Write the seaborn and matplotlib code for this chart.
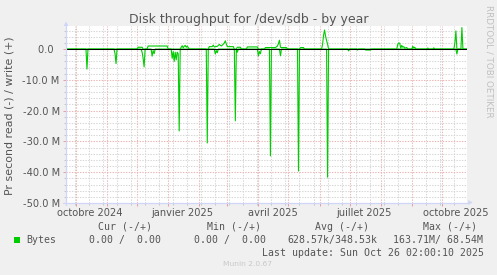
import numpy as np
import pandas as pd
import matplotlib
matplotlib.use("Agg")
import matplotlib.pyplot as plt
import matplotlib.dates as mdates
import seaborn as sns
from matplotlib.lines import Line2D
from matplotlib.patches import Rectangle, Polygon
from matplotlib.ticker import FixedLocator, MultipleLocator, FuncFormatter

# ---------------- data (days since 2024-10-01, values in M bytes/s) ----------------
base_date = "2024-10-01"
read_days = [-10, 10, 11, 12, 38, 39, 40, 41, 65, 66, 67, 68, 69, 75, 76, 77, 78, 79,
             95, 96, 97, 98, 99, 100, 101, 102, 103, 104, 130, 131, 132,
             138, 139, 140, 141, 142, 158, 159, 160, 161, 162, 181, 182, 183, 184, 185,
             193, 194, 195, 203, 204, 205, 221, 222, 223, 250, 251, 252,
             271, 272, 273, 280, 281, 282, 288, 289, 294, 295, 379, 380, 381, 390]
read_vals = [0, 0, 6.5, 0, 0, 1.5, 4.7, 0, 0, 1.0, 3.0, 5.8, 0, 0, 2.3, 0.5, 1.5, 0,
             0, 3.0, 0.8, 4.0, 1.0, 3.5, 1.0, 1.5, 26.6, 0, 0, 30.5, 0,
             0, 1.6, 0.5, 1.2, 0, 0, 23.3, 0, 1.0, 0, 0, 2.2, 0.8, 1.5, 0,
             0, 34.7, 0, 0, 2.2, 0, 0, 39.6, 0, 0, 41.6, 0,
             0, 0.6, 0, 0, 0.3, 0, 0, 0.3, 0.3, 0, 0, 1.6, 0, 0]
write_days = [-10, 61, 62, 66, 67, 71, 72, 91, 92,
              104, 105, 106, 107, 108, 109, 110, 111, 112, 113,
              132, 133, 136, 137, 138, 141, 143, 145, 147, 148, 149, 150, 151, 157, 158,
              160, 161, 164, 165, 170, 171, 181, 182,
              188, 189, 199, 201, 202, 203, 204, 205, 210, 211,
              223, 224, 227, 228, 245, 246, 247, 248, 249, 250, 251, 252,
              320, 321, 322, 323, 324, 325, 326, 327, 328, 330, 331,
              335, 336, 337, 338, 339, 350, 351, 352, 356, 357, 358,
              376, 377, 378, 379, 380, 384, 385, 386, 390]
write_vals = [0, 0, 0.6, 0.6, 0, 0, 1.0, 1.0, 0,
              0, 0.6, 1.1, 0.4, 0.9, 1.2, 0.6, 1.0, 0.5, 0,
              0, 0.8, 0.8, 1.3, 0.7, 0.9, 1.5, 1.0, 1.6, 2.0, 2.7, 1.6, 0.8, 0.8, 0,
              0, 0.6, 0.6, 0, 0, 0.7, 0.7, 0,
              0, 0.5, 0.5, 1.0, 1.8, 2.9, 0.6, 0.5, 0.5, 0,
              0, 0.5, 0.5, 0, 0, 1.5, 4.5, 6.2, 4.2, 2.8, 1.6, 0,
              0, 1.5, 2.0, 1.9, 0.3, 1.2, 0.6, 0.8, 0.3, 0.5, 0,
              0, 0.9, 0.4, 0.6, 0, 0, 0.35, 0, 0, 0.4, 0,
              0, 0, 2.0, 5.9, 0, 0, 7.0, 0, 0]

y_ticks = [0, -10, -20, -30, -40, -50]
x_label_dates = ["2024-10-15", "2025-01-15", "2025-04-15", "2025-07-15", "2025-10-15"]
x_labels = ["octobre 2024", "janvier 2025", "avril 2025", "juillet 2025", "octobre 2025"]

legend_name = "Bytes"
cur_vals = ["0.00", "0.00"]
min_vals = ["0.00", "0.00"]
avg_vals = ["628.57k", "348.53k"]
max_vals = ["163.71M", "68.54M"]
last_update = "Sun Oct 26 02:00:10 2025"

# ---------------- styling ----------------
sns.set_theme(style="white")
plt.rcParams["font.family"] = ["DejaVu Sans"]
FONT = "#555555"
BACK = "#F0F0F0"
AXISC = "#CFD6F8"
GREEN = "#00CC00"
MGRID = "#eeb4b4"
GRID = "#d6d6d6"

W, H = 497, 275
fig = plt.figure(figsize=(W / 100, H / 100), dpi=100, facecolor=BACK)
L, R, T, B = 66, 467, 26, 203


def fx(x):
    return x / W


def fy(y):
    return 1 - y / H


ax = fig.add_axes([fx(L), fy(B), (R - L) / W, (B - T) / H])
ax.set_facecolor("white")

t0 = pd.Timestamp(base_date)
read_df = pd.DataFrame({"date": t0 + pd.to_timedelta(read_days, unit="D"),
                        "val": -np.array(read_vals)})
write_df = pd.DataFrame({"date": t0 + pd.to_timedelta(write_days, unit="D"),
                         "val": np.array(write_vals)})

sns.lineplot(data=read_df, x="date", y="val", ax=ax, color=GREEN, lw=0.8,
             estimator=None, sort=False, zorder=3)
sns.lineplot(data=write_df, x="date", y="val", ax=ax, color=GREEN, lw=0.8,
             estimator=None, sort=False, zorder=3)
ax.axhline(0, color="black", lw=0.75, zorder=4)

ax.set_xlim(pd.Timestamp("2024-09-21 02:00:10"), pd.Timestamp("2025-10-26 02:00:10"))
ax.set_ylim(-50, 7.5)

for s in ax.spines.values():
    s.set_visible(False)

# grids: monthly major, fortnightly (Monday) minor
ax.xaxis.set_major_locator(mdates.MonthLocator())
minor_dates = pd.date_range("2024-09-16", "2025-10-27", freq="2W-MON")
ax.xaxis.set_minor_locator(FixedLocator(mdates.date2num(minor_dates)))
ax.xaxis.set_major_formatter(FuncFormatter(lambda v, p: ""))
ax.yaxis.set_major_locator(FixedLocator(y_ticks))
ax.yaxis.set_minor_locator(MultipleLocator(2))
ax.yaxis.set_major_formatter(FuncFormatter(lambda v, p: "0.0  " if abs(v) < 1e-9 else f"{v:.1f} M"))

ax.grid(which="major", color=MGRID, linestyle=(0, (1.3, 1.3)), lw=0.75, zorder=1)
ax.grid(which="minor", color=GRID, linestyle=(0, (1.3, 1.3)), lw=0.75, zorder=1)
ax.set_axisbelow(True)

ax.tick_params(axis="both", which="major", direction="out", length=2.2, width=0.75,
               color="#e8a0a0", labelsize=7.1, labelcolor=FONT, pad=2.3)
ax.tick_params(axis="both", which="minor", direction="out", length=1.5, width=0.75,
               color="#c8c8c8")
ax.tick_params(axis="x", which="both", bottom=True)
ax.tick_params(axis="y", which="both", left=True)
ax.set_xlabel("")
ax.set_ylabel("")

for d, lab in zip(x_label_dates, x_labels):
    ax.annotate(lab, xy=(pd.Timestamp(d), 0), xycoords=("data", "axes fraction"),
                xytext=(0, -7.0), textcoords="offset points", ha="center", va="center",
                fontsize=7.1, color=FONT, annotation_clip=False)

# axis lines with arrows
fig.add_artist(Line2D([fx(L), fx(L)], [fy(B + 2), fy(24)], transform=fig.transFigure,
                      color=AXISC, lw=0.9))
fig.add_artist(Line2D([fx(L - 2), fx(469)], [fy(B - 0.5), fy(B - 0.5)],
                      transform=fig.transFigure, color=AXISC, lw=0.9))
fig.add_artist(Polygon([[fx(L - 2.4), fy(26)], [fx(L + 2.4), fy(26)], [fx(L), fy(21.5)]],
                       closed=True, transform=fig.transFigure, color=AXISC, lw=0))
fig.add_artist(Polygon([[fx(468.3), fy(B - 2.9)], [fx(468.3), fy(B + 1.9)], [fx(472.7), fy(B - 0.5)]],
                       closed=True, transform=fig.transFigure, color=AXISC, lw=0))

# titles
fig.text(fx(249), fy(19.5), "Disk throughput for /dev/sdb - by year", ha="center",
         va="center", fontsize=9, color=FONT)
fig.text(fx(10), fy(116), "Pr second read (-) / write (+)", rotation=90, ha="center",
         va="center", fontsize=7.9, color=FONT)
fig.text(fx(489), fy(5), "RRDTOOL / TOBI OETIKER", rotation=270, ha="center", va="top",
         fontsize=6.3, color="#c0c0c0")

# legend
mono = dict(family="DejaVu Sans Mono", fontsize=7.1, color=FONT, va="center", ha="left")
for x, s in [(98, "Cur (-/+)"), (206.7, "Min (-/+)"), (315, "Avg (-/+)"), (422.7, "Max (-/+)")]:
    fig.text(fx(x), fy(226.7), s, **mono)
fig.add_artist(Rectangle((fx(14), fy(243)), 6 / W, 6 / H, transform=fig.transFigure,
                         facecolor=GREEN, edgecolor="none"))
fig.text(fx(26.7), fy(240), legend_name, **mono)
fig.text(fx(89.3), fy(240), f"{cur_vals[0]} / {cur_vals[1]:>5}", **mono)
fig.text(fx(194.3), fy(240), f"{min_vals[0]} / {min_vals[1]:>5}", **mono)
fig.text(fx(287.3), fy(240), f"{avg_vals[0]}/{avg_vals[1]:>7}", **mono)
fig.text(fx(392.7), fy(240), f"{max_vals[0]}/{max_vals[1]:>7}", **mono)
fig.text(fx(261.7), fy(252.7), f"Last update: {last_update}", **mono)
fig.text(fx(223.3), fy(264.5), "Munin 2.0.67", ha="left", va="center", fontsize=5.4,
         color="#c8c8c8")

fig.savefig("out.png", dpi=100, facecolor=BACK)
